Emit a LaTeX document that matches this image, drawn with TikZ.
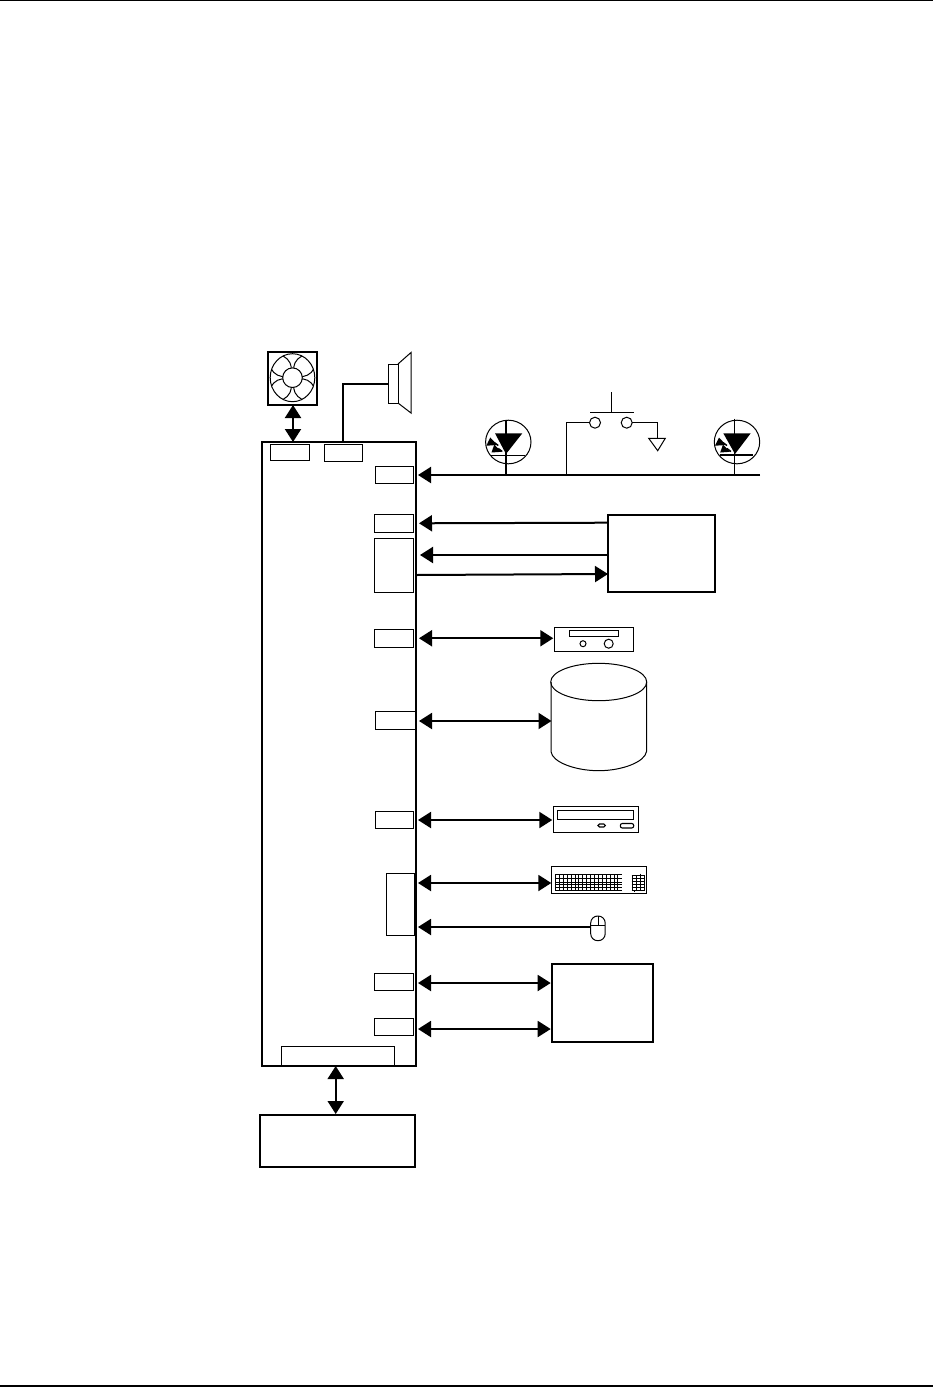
\documentclass[tikz,border=0pt]{standalone}
\usetikzlibrary{arrows.meta,shapes.geometric}
\tikzset{
  x=1pt,y=-1pt,
  thin box/.style={draw=black,line width=1pt,fill=white,rectangle,inner sep=0pt,outer sep=0pt,anchor=north west},
  thick box/.style={thin box,line width=2pt},
  bi/.style={line width=2pt,{Triangle[length=13pt,width=16pt]}-{Triangle[length=13pt,width=16pt]}},
  uni/.style={line width=2pt,-{Triangle[length=13pt,width=16pt]}},
  wire/.style={line width=1pt},
  heavy/.style={line width=2pt},
  rule/.style={line width=1.6pt}
}
\newcommand{\nbox}[6]{\node[#2,minimum width={(#5-#3)*1pt},minimum height={(#6-#4)*1pt}] (#1) at (#3,#4) {};}
\newcommand{\ledarrows}[2]{%
  \begin{scope}[shift={(#1,#2)}]
    \draw[line width=1.4pt] (4,-2) -- (8,1);
    \draw[line width=1.4pt] (8,4) -- (12,7);
    \fill (0,-7) -- (-4,1.2) -- (7,0.5) -- cycle;
    \fill (4,0) -- (1.2,8) -- (11,7.3) -- cycle;
  \end{scope}}
\begin{document}
\begin{tikzpicture}
\useasboundingbox (0,0) rectangle (933,1387);
\coordinate (rtl) at (0,0.6); \coordinate (rtr) at (933,0.6);
\coordinate (rbl) at (0,1386.2); \coordinate (rbr) at (933,1386.2);
\draw[rule] (rtl) -- (rtr);
\draw[rule] (rbl) -- (rbr);

% main board and ports
\nbox{board}{thick box}{262}{442}{416}{1066}
\nbox{pa}{thin box}{270}{444.5}{309.5}{460.5}
\nbox{pb}{thin box}{324.3}{444.5}{362.5}{461}
\nbox{pc}{thin box}{375.7}{466.5}{413.7}{483}
\nbox{pd}{thin box}{374.3}{514.3}{413.7}{532.3}
\nbox{pe}{thin box}{374.3}{538.3}{413.7}{592.3}
\nbox{pf}{thin box}{374.3}{629.5}{413.7}{647}
\nbox{pg}{thin box}{375.5}{711.5}{415}{729.5}
\nbox{ph}{thin box}{375.5}{811}{413.7}{828.5}
\nbox{pi}{thin box}{386.5}{873.5}{414}{935}
\nbox{pj}{thin box}{374.3}{973.3}{413.7}{990.3}
\nbox{pk}{thin box}{374.3}{1018.3}{413.7}{1035.3}
\nbox{pl}{thin box}{281.3}{1046.3}{394.7}{1065}

% fan
\nbox{fan}{thick box}{268}{352}{317}{405}
\begin{scope}[shift={(292.5,377.7)},line width=1pt]
  \begin{scope}
    \clip (0,0) ellipse [x radius=22.3,y radius=24];
    \foreach \a in {45,135,225,315}
      \draw[rotate=\a] (17,0) ellipse [x radius=12,y radius=9.5];
  \end{scope}
  \draw (0,0) ellipse [x radius=22.3,y radius=24];
  \draw[fill=white] (0,0) circle [radius=9.8];
\end{scope}
\draw[bi] (fan.south -| 293,0) -- (board.north -| 293,0);

% speaker
\nbox{spk}{thin box}{388.7}{364}{398}{403}
\draw[wire] (spk.north east) -- (411,352.5) -- (411,413) -- (spk.south east);
\draw[heavy] (pb.north |- board.north) -- (pb.north |- spk.west) -- (spk.west);

% LEDs
\coordinate (led1) at (508.3,442);
\coordinate (led2) at (737,442);
\draw[line width=1pt] (led1) ellipse [x radius=22.7,y radius=21.8];
\draw[line width=1pt] (led2) ellipse [x radius=22.7,y radius=21.8];
\coordinate (bus) at (760,475);
\draw[line width=1.4pt] (505.8,419.5) -- (505.8,475);
\draw[line width=1.4pt] (734.3,418.5) -- (734.3,475);
\fill (495,433.3) -- (522.3,433.3) -- (506,454) -- cycle;
\fill (723.3,433.3) -- (750.7,433.3) -- (735,454) -- cycle;
\draw[line width=1.5pt] (491.3,455.7) -- (525,455.7);
\draw[line width=2.4pt] (720,455) -- (752.7,455);
\ledarrows{490.3}{444.5}
\ledarrows{719}{444.5}

% switch
\coordinate (junction) at (566.3,422.7);
\node[draw,line width=1pt,circle,minimum size=11pt,inner sep=0pt,outer sep=0pt] (swa) at (595,422.7) {};
\node[draw,line width=1pt,circle,minimum size=11pt,inner sep=0pt,outer sep=0pt] (swb) at (626.7,422.7) {};
\coordinate (gnd) at (657.7,438.3);
\draw[wire] (611.3,392.3) -- (611.3,412.3);
\draw[wire] (590,412.3) -- (633.7,412.3);
\draw[wire] (566.3,475) -- (junction) -- (swa.west);
\draw[wire] (swb.east) -- (gnd |- swb.east) -- (gnd);
\draw[wire] (648.7,438.3) -- (665.3,438.3) -- (657.7,450.7) -- cycle;

% row 1 to row 3
\draw[uni,shorten >=2pt] (bus) -- (board.east |- bus);
\nbox{crt}{thick box}{608}{515}{715}{592}
\draw[uni,shorten >=3pt] (crt.west |- 0,522.7) -- (board.east |- 0,523.3);
\draw[uni,shorten >=4pt] (crt.west |- 0,555) -- (board.east |- 0,555);
\draw[uni] (board.east |- 0,575) -- (crt.west |- 0,574);

% floppy
\nbox{fdd}{thin box}{554.3}{627.3}{633.7}{651.3}
\draw[line width=1pt] (569.3,630.3) rectangle (618.7,636.3);
\draw[line width=1.6pt] (581,630.3) -- (605.7,630.3);
\draw[line width=1.6pt] (581,636.6) -- (605.7,636.6);
\draw[line width=1pt] (583,643.7) circle [radius=3];
\draw[line width=1pt] (608.7,643.7) circle [radius=4.5];
\draw[bi,shorten <=3pt,shorten >=1pt] (board.east |- pf.east) -- (fdd.west |- pf.east);

% hard disk
\coordinate (cylw) at (551,682);
\coordinate (cyle) at (646.5,682);
\draw[line width=1pt] (598.7,682) ellipse [x radius=48,y radius=18.7];
\draw[line width=1pt] (cylw) -- (551,751.5) .. controls (552,762) and (575,770.7) .. (598.7,770.7) .. controls (622,770.7) and (645,762) .. (646.5,751.5) -- (cyle);
\draw[bi,shorten <=3pt,shorten >=0pt] (board.east |- 0,721) -- (551.5,721);

% optical drive
\nbox{cd}{thin box}{553.3}{806.3}{638.7}{832.3}
\draw[line width=1pt] (557.3,810) rectangle (633.7,819.3);
\draw[line width=1.1pt,rounded corners=1.5pt] (598,824) rectangle (605.3,827);
\draw[line width=1.1pt,rounded corners=2pt] (620.3,823.5) rectangle (633.7,828);
\draw[bi,shorten <=2pt,shorten >=1pt] (board.east |- 0,820) -- (cd.west |- 0,820);

% keyboard
\nbox{kbd}{thin box}{551.3}{866.3}{646.7}{893.3}
\foreach \yy in {874,878,882,884.7,887.4,890} \draw[line width=.9pt] (555.3,\yy) -- (621.7,\yy);
\foreach \xx in {555.5,559.4,...,620} \draw[line width=.9pt] (\xx,874) -- (\xx,890);
\foreach \yy in {875,878.2,881.4,884.6,887.8,890.7} \draw[line width=.9pt] (631.7,\yy) -- (644,\yy);
\foreach \xx in {632,636,640,644} \draw[line width=.9pt] (\xx,875) -- (\xx,890.7);
\draw[line width=.9pt] (640,873.5) -- (640,875);
\draw[line width=.9pt] (634,890.7) -- (634,892);
\draw[bi,shorten <=2pt,shorten >=0pt] (board.east |- 0,883) -- (kbd.west |- 0,883);

% mouse
\node[draw,line width=1pt,rectangle,rounded corners=7pt,minimum width=14.5pt,minimum height=24.7pt,inner sep=0pt,outer sep=0pt,anchor=north west] (mouse) at (590.7,916) {};
\draw[line width=.9pt] (mouse.west |- 0,925.7) -- (mouse.east |- 0,925.7);
\draw[line width=.9pt] (mouse.north) -- (mouse.center |- 0,925.7);
\draw[uni,shorten >=2pt] (mouse.west |- 0,927) -- (board.east |- 0,927);

% display box
\nbox{mon}{thick box}{551.7}{964}{653}{1042}
\draw[bi,shorten <=2pt,shorten >=1pt] (board.east |- 0,983) -- (mon.west |- 0,983);
\draw[bi,shorten <=2pt,shorten >=1pt] (board.east |- 0,1029) -- (mon.west |- 0,1029);

% power box
\nbox{psu}{thick box}{260}{1115}{415}{1166.7}
\draw[bi,shorten >=1pt] (board.south -| 335.7,0) -- (psu.north -| 335.7,0);
\end{tikzpicture}
\end{document}
